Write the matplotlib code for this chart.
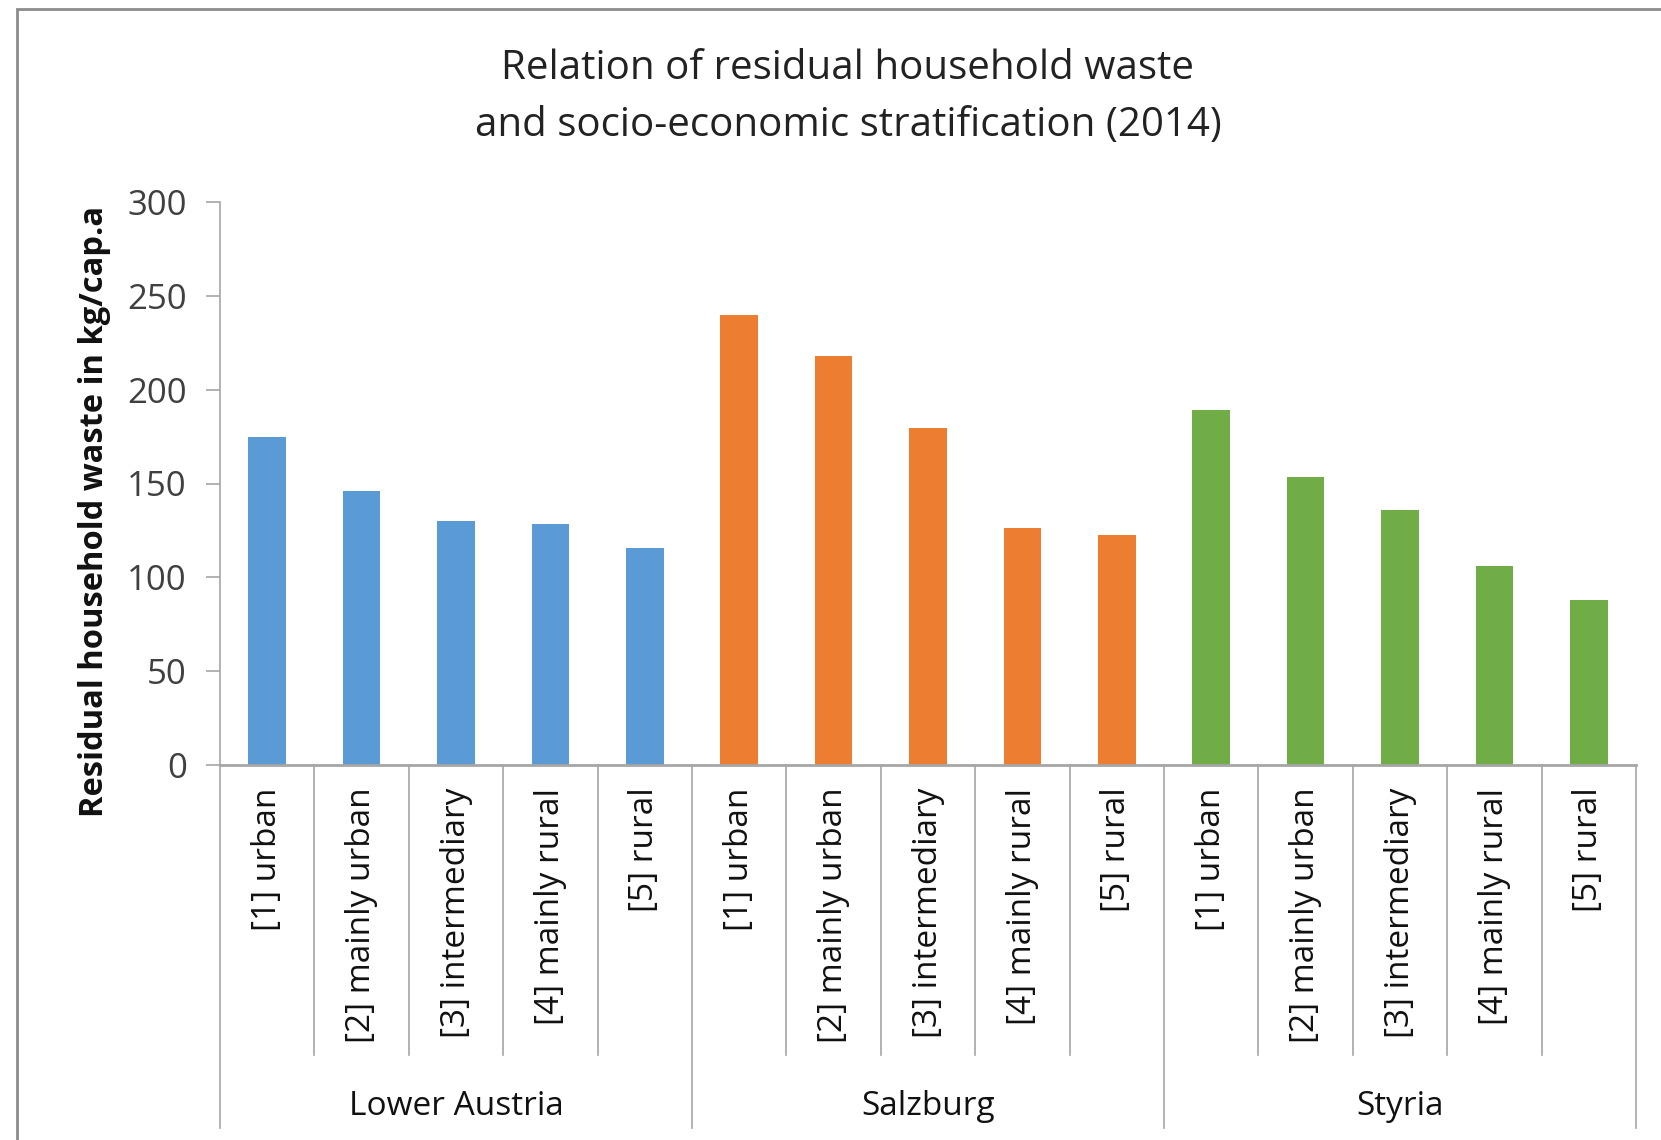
import matplotlib.pyplot as plt
import matplotlib.patches as patches
import matplotlib.transforms as mtransforms

plt.rcParams["font.family"] = ["Open Sans", "DejaVu Sans"]

# residual household waste in kg/cap.a per region and stratum
regions = ["Lower Austria", "Salzburg", "Styria"]
strata = ["[1] urban", "[2] mainly urban", "[3] intermediary", "[4] mainly rural", "[5] rural"]
lower_austria = [175, 146, 130, 128.5, 115.5]
salzburg = [240, 218, 179.5, 126.5, 122.5]
styria = [189, 153.5, 136, 106, 88]
colors = ["#5B9BD5", "#ED7D31", "#70AD47"]

fig = plt.figure(figsize=(16.61, 11.40), dpi=100)
ax = fig.add_axes([220 / 1661, 375 / 1140, 1416 / 1661, 563 / 1140])

grey = "#A6A6A6"
txt = "#404040"

# bars, one group per region
series = [lower_austria, salzburg, styria]
pos = 0
for values, c in zip(series, colors):
    xs = list(range(pos, pos + len(values)))
    ax.bar(xs, values, width=0.4, color=c, zorder=2)
    pos += len(values)

n = pos
ax.set_xlim(-0.5, n - 0.5)
ax.set_ylim(0, 300)
ax.set_yticks(range(0, 301, 50))
ax.tick_params(axis="y", length=10, width=1.2, color=grey, labelsize=25,
               labelcolor=txt, pad=14)
ax.set_xticks([])
for s in ["top", "right"]:
    ax.spines[s].set_visible(False)
ax.spines["left"].set_color(grey)
ax.spines["bottom"].set_color(grey)
ax.spines["left"].set_linewidth(1.2)
ax.spines["bottom"].set_linewidth(2)

ax.set_ylabel("Residual household waste in kg/cap.a", fontsize=23.5,
              fontweight="bold", color="#111111")
ax.yaxis.set_label_coords(-0.077, 0.45)

# two-level category axis below the plot
trans = mtransforms.blended_transform_factory(ax.transData, ax.transAxes)
for i in range(n + 1):
    x = i - 0.5
    y_end = -0.645 if i % len(strata) == 0 else -0.515
    ax.plot([x, x], [0, y_end], color=grey, lw=1.2, transform=trans,
            clip_on=False)

for i in range(n):
    ax.text(i, -0.04, strata[i % len(strata)], rotation=90, ha="center",
            va="top", fontsize=24, color="#111111", transform=trans)

for g, name in enumerate(regions):
    center = g * len(strata) + (len(strata) - 1) / 2
    ax.text(center, -0.607, name, ha="center", va="center", fontsize=24,
            color="#111111", transform=trans)

fig.text(0.5105, 1 - 97 / 1140, "Relation of residual household waste\nand socio-economic stratification (2014)",
         ha="center", va="center", fontsize=29, color="#222222",
         linespacing=1.55)

# chart area border
fig.patches.append(patches.Rectangle((17 / 1661, -0.1), 1.2, 1.1 - 9 / 1140,
                                     transform=fig.transFigure, fill=False,
                                     edgecolor="#8C8C8C", lw=2))

fig.savefig("out.png", dpi=100)
